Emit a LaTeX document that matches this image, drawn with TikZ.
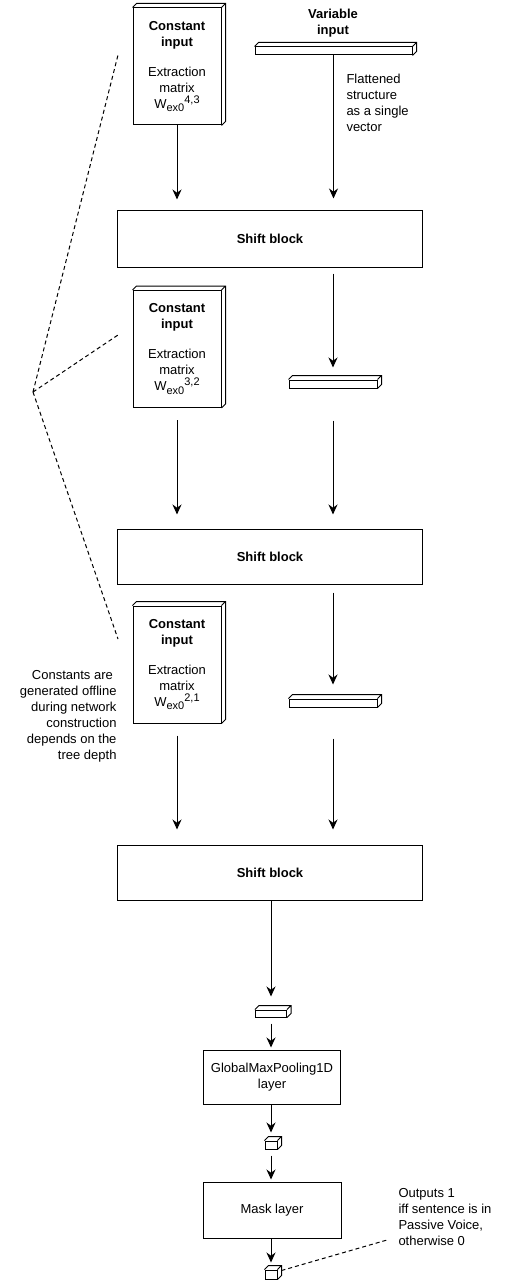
\documentclass[tikz,border=0pt]{standalone}
\usepackage{fontspec}
\setmainfont{Liberation Sans}
\usetikzlibrary{arrows.meta}

\newcommand{\wsub}[1]{\raisebox{-3.5pt}{\fontsize{11}{11}\selectfont #1}}
\newcommand{\wsup}[1]{\raisebox{5pt}{\fontsize{11}{11}\selectfont #1}}

\tikzset{
  base/.style={font=\fontsize{13}{16}\selectfont},
  constbox/.style={base, draw, fill=white, minimum width=88pt, minimum height=117pt, inner sep=0pt, align=center},
  vecbar/.style={draw, fill=white, minimum height=8pt, inner sep=0pt},
  block/.style={base, draw, fill=white, inner sep=0pt, align=center},
  note/.style={base, inner sep=0pt},
  arr/.style={-{Stealth[length=10pt,width=9pt]}},
  hint/.style={dashed, dash pattern=on 4pt off 3pt}
}

\begin{document}
\begin{tikzpicture}[x=1pt, y=-1pt, line width=1pt]
\useasboundingbox (0,0) rectangle (505,1281);

% Constant inputs
\foreach \n/\y/\idx in {c1/66.5/{4,3}, c2/349/{3,2}, c3/664.5/{2,1}} {
    \node[constbox] (\n) at (177,\y) {\textbf{Constant}\\\textbf{input}\\[14pt]Extraction\\matrix\\W\wsub{ex0}\wsup{\idx}};
}

% Variable input and vectors
\node[note, align=center] (vin) at (333,23.5) {\textbf{Variable}\\\textbf{input}};
\node[vecbar, minimum width=157pt] (v1) at (333.5,51) {};
\node[vecbar, minimum width=88pt] (v2) at (333,384) {};
\node[vecbar, minimum width=88pt] (v3) at (333,703) {};
\node[note, anchor=west, align=left] (fnote) at (346,102.5) {Flattened\\structure\\as a single\\vector};

% Shift blocks
\node[block, minimum width=305pt, minimum height=56pt] (s1) at (270,239) {\textbf{Shift block}};
\node[block, minimum width=305pt, minimum height=55pt] (s2) at (270,556.5) {\textbf{Shift block}};
\node[block, minimum width=305pt, minimum height=55pt] (s3) at (270,872.5) {\textbf{Shift block}};

% Output part
\node[vecbar, minimum width=31pt, minimum height=7pt] (o1) at (271,1013.5) {};
\node[block, minimum width=137pt, minimum height=54pt] (g) at (272,1077) {GlobalMaxPooling1D\\layer};
\node[vecbar, minimum width=12pt] (o2) at (271,1145) {};
\node[block, minimum width=138pt, minimum height=56pt] (m) at (272,1210) {Mask layer};
\node[vecbar, minimum width=12pt, minimum height=9pt] (o3) at (271,1274.5) {};

% Depth faces
\foreach \n in {c1,c2,c3,v1,v2,v3,o1,o2,o3} {
    \draw (\n.north west) -- ++(4,-4) -| ([shift={(4,-4)}]\n.south east) -- (\n.south east)
          (\n.north east) -- ++(4,-4);
}

% Arrows
\draw[arr, shorten >=11pt] (c1) -- (c1 |- s1.north);
\draw[arr, shorten >=12pt] (v1) -- (v1 |- s1.north);
\draw[arr, shorten <=6pt, shorten >=12pt] (s1.south -| v2) -- (v2);
\draw[arr, shorten <=12pt, shorten >=14pt] (c2) -- (c2 |- s2.north);
\draw[arr, shorten <=32pt, shorten >=14pt] (v2) -- (v2 |- s2.north);
\draw[arr, shorten <=8pt, shorten >=14pt] (s2.south -| v3) -- (v3);
\draw[arr, shorten <=12pt, shorten >=15pt] (c3) -- (c3 |- s3.north);
\draw[arr, shorten <=31pt, shorten >=15pt] (v3) -- (v3 |- s3.north);
\draw[arr, shorten >=13pt] (s3.south -| o1) -- (o1);
\draw[arr, shorten <=6pt, shorten >=2pt] (o1) -- (o1 |- g.north);
\draw[arr, shorten >=8pt] (g.south -| o2) -- (o2);
\draw[arr, shorten <=6pt, shorten >=2pt] (o2) -- (o2 |- m.north);
\draw[arr, shorten >=7pt] (m.south -| o3) -- (o3);

% Notes
\node[note, anchor=east, align=right] (cnote) at (117,716.5) {Constants are\hspace*{3.6pt}\\generated offline\\during network\hspace*{3.6pt}\\construction\\depends on the\hspace*{3.6pt}\\tree depth};
\coordinate (hub) at (33,392);
\foreach \i/\y in {1/55, 2/335, 3/639} {
    \coordinate (t\i) at (118,\y);
    \draw[hint] (hub) -- (t\i);
}

\node[note, anchor=west, align=left] (onote) at (398,1217) {Outputs 1\\iff sentence is in\\Passive Voice,\\otherwise 0};
\coordinate (otip) at (387,1240);
\draw[hint] ([shift={(4,-4)}]o3.east) -- (otip);
\end{tikzpicture}
\end{document}
